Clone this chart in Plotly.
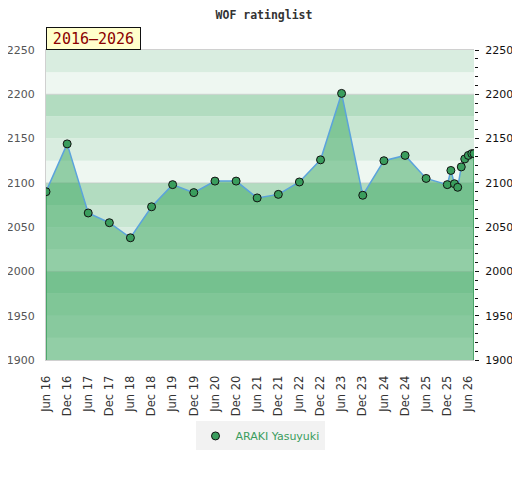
import plotly.graph_objects as go

dates = ["2016-06-01", "2016-12-01", "2017-06-01", "2017-12-01", "2018-06-01",
         "2018-12-01", "2019-06-01", "2019-12-01", "2020-06-01", "2020-12-01",
         "2021-06-01", "2021-12-01", "2022-06-01", "2022-12-01", "2023-06-01",
         "2023-12-01", "2024-06-01", "2024-12-01", "2025-06-01", "2025-12-01",
         "2026-01-01", "2026-02-01", "2026-03-01", "2026-04-01", "2026-05-01",
         "2026-06-01", "2026-07-01", "2026-07-20"]
ratings = [2090, 2144, 2066, 2055, 2038, 2073, 2098, 2089, 2102, 2102,
           2083, 2087, 2101, 2126, 2201, 2086, 2125, 2131, 2105, 2098,
           2114, 2099, 2095, 2118, 2127, 2131, 2133, 2133]

tick_dates = []
tick_labels = []
for yr in range(2016, 2027):
    tick_dates.append(f"{yr}-06-01"); tick_labels.append(f"Jun {yr % 100:02d}")
    if yr < 2026:
        tick_dates.append(f"{yr}-12-01"); tick_labels.append(f"Dec {yr % 100:02d}")

y_min, y_max = 1900, 2250
band_colors = ["#eef7f1", "#d9ede0", "#c8e6d2", "#b2dcc0"]  # bottom->top in each 100 block

player = "ARAKI Yasuyuki"
period = "2016–2026"

fig = go.Figure()

shapes = []
for lo in range(y_min, y_max, 25):
    idx = ((lo % 100) // 25)
    shapes.append(dict(type="rect", xref="paper", yref="y", x0=0, x1=1, y0=lo, y1=lo + 25,
                       fillcolor=band_colors[idx], line=dict(width=0), layer="below"))
for v in range(y_min + 100, y_max, 100):
    shapes.append(dict(type="line", xref="paper", yref="y", x0=0, x1=1, y0=v, y1=v,
                       line=dict(color="rgba(200,200,200,0.7)", width=1), layer="below"))

# area fill
fig.add_trace(go.Scatter(x=dates, y=ratings, mode="lines", fill="tozeroy",
                         fillcolor="rgba(62,168,98,0.52)", line=dict(width=0),
                         showlegend=False, hoverinfo="skip"))
# edges of the area
for i in (0, -1):
    fig.add_trace(go.Scatter(x=[dates[i], dates[i]], y=[y_min, ratings[i]], mode="lines",
                             line=dict(color="#3a9a5a", width=1.5), showlegend=False,
                             hoverinfo="skip"))
# main line
fig.add_trace(go.Scatter(x=dates, y=ratings, mode="lines", showlegend=False,
                         line=dict(color="#5ba3dc", width=1.5), hoverinfo="skip"))
# markers
fig.add_trace(go.Scatter(x=dates, y=ratings, mode="markers", name=player,
                         marker=dict(size=8, color="#3a9d5d", line=dict(color="#111", width=1))))
# twin for right axis
fig.add_trace(go.Scatter(x=dates, y=ratings, yaxis="y2", mode="lines",
                         line=dict(width=0), showlegend=False, hoverinfo="skip", opacity=0))

fs = 11
fig.update_layout(
    width=512, height=472,
    margin=dict(l=38, r=46, t=42, b=120, autoexpand=False),
    paper_bgcolor="white", plot_bgcolor="white",
    shapes=shapes,
    title=dict(text="<b>WOF ratinglist</b>", x=0.5, xanchor="center", y=0.986, yanchor="middle",
               font=dict(family="DejaVu Sans Mono", size=11.5, color="#333")),
    xaxis=dict(type="date", range=[dates[0], dates[-1]], tickvals=tick_dates, ticktext=tick_labels,
               tickangle=-90, showgrid=False, zeroline=False, showline=True, linecolor="#d0d0d0",
               linewidth=1, mirror=True, ticks="", ticklabelstandoff=10, automargin=False,
               tickfont=dict(family="DejaVu Sans", size=11.5, color="#333")),
    yaxis=dict(range=[y_min, y_max], dtick=50, showgrid=False, zeroline=False,
               showline=True, linecolor="#d0d0d0", ticks="", ticklabelstandoff=8, automargin=False,
               tickfont=dict(family="DejaVu Sans", size=fs, color="#555")),
    yaxis2=dict(range=[y_min, y_max], dtick=50, overlaying="y", side="right", showgrid=False,
                zeroline=False, showline=False, ticks="outside", ticklen=4, tickcolor="#111",
                minor=dict(dtick=10, ticks="outside", ticklen=3, tickcolor="#111"),
                ticklabelstandoff=4, automargin=False,
                tickfont=dict(family="DejaVu Sans", size=fs, color="#111")),
    legend=dict(orientation="h", x=0.5, xanchor="center", y=-0.245, yanchor="middle",
                bgcolor="#f2f2f2", font=dict(family="DejaVu Sans", size=fs, color="#3a9d5d")),
    annotations=[dict(text=period, xref="paper", yref="paper", x=0, xanchor="left",
                      y=1, yanchor="bottom", showarrow=False, bgcolor="#ffffcc",
                      bordercolor="#111", borderwidth=1, borderpad=2, width=89, height=17,
                      font=dict(family="DejaVu Sans Mono", size=15, color="#8b0000"))],
)

fig.write_html("out.html")
